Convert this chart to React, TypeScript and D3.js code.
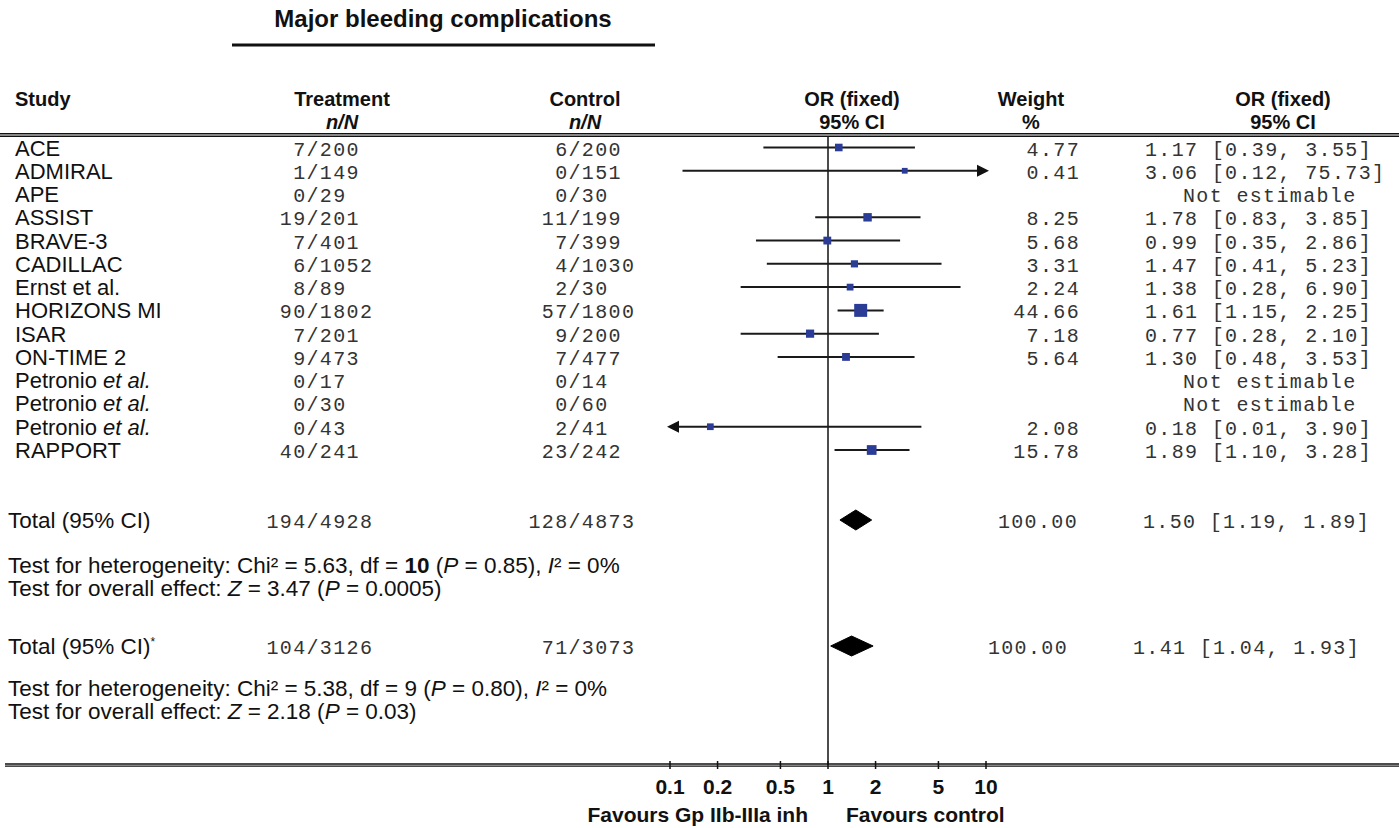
import React from "react";
import * as d3 from "d3";

const studies = ["ACE", "ADMIRAL", "APE", "ASSIST", "BRAVE-3", "CADILLAC", "Ernst et al.", "HORIZONS MI", "ISAR", "ON-TIME 2", "Petronio", "Petronio", "Petronio", "RAPPORT"];
const italicSuffix = ["", "", "", "", "", "", "", "", "", "", " et al.", " et al.", " et al.", ""];
const treatEvents = [7, 1, 0, 19, 7, 6, 8, 90, 7, 9, 0, 0, 0, 40];
const treatTotal = [200, 149, 29, 201, 401, 1052, 89, 1802, 201, 473, 17, 30, 43, 241];
const ctrlEvents = [6, 0, 0, 11, 7, 4, 2, 57, 9, 7, 0, 0, 2, 23];
const ctrlTotal = [200, 151, 30, 199, 399, 1030, 30, 1800, 200, 477, 14, 60, 41, 242];
const weights: (number | null)[] = [4.77, 0.41, null, 8.25, 5.68, 3.31, 2.24, 44.66, 7.18, 5.64, null, null, 2.08, 15.78];
const oddsRatio: (number | null)[] = [1.17, 3.06, null, 1.78, 0.99, 1.47, 1.38, 1.61, 0.77, 1.3, null, null, 0.18, 1.89];
const ciLow: (number | null)[] = [0.39, 0.12, null, 0.83, 0.35, 0.41, 0.28, 1.15, 0.28, 0.48, null, null, 0.01, 1.1];
const ciHigh: (number | null)[] = [3.55, 75.73, null, 3.85, 2.86, 5.23, 6.9, 2.25, 2.1, 3.53, null, null, 3.9, 3.28];

const totalLabels = ["Total (95% CI)", "Total (95% CI)"];
const totalStar = ["", "*"];
const totalTreat = ["194/4928", "104/3126"];
const totalCtrl = ["128/4873", "71/3073"];
const totalWeight = ["100.00", "100.00"];
const totalOR = [1.5, 1.41];
const totalLow = [1.19, 1.04];
const totalHigh = [1.89, 1.93];

const ticks = [0.1, 0.2, 0.5, 1, 2, 5, 10];

const sans = "'Liberation Sans', Arial, Helvetica, sans-serif";
const mono = "'Liberation Mono', 'Courier New', monospace";
const CW = 13.35; // mono advance
const monoStyle = { fontFamily: mono, fontSize: 20, letterSpacing: 1.35, fill: "#333" } as const;

const x = d3.scaleLog().domain([0.1, 10]).range([670, 986]);
const rowY = d3.scaleLinear().domain([0, studies.length - 1]).range([147.5, 450]);
const sq = d3.scaleSqrt().domain([0, 45]).range([5, 13]);
const totalY = [520, 646];

function fmt2(v: number) {
  return d3.format(".2f")(v);
}

function Frac({ slashX, y, num, den }: { slashX: number; y: number; num: string; den: string }) {
  return (
    <text x={slashX - num.length * CW} y={y} style={monoStyle}>
      {num + "/" + den}
    </text>
  );
}

function RightMono({ right, y, s }: { right: number; y: number; s: string }) {
  return (
    <text x={right - s.length * CW} y={y} style={monoStyle}>
      {s}
    </text>
  );
}

export default function App() {
  const ink = "#111";
  const blue = "#2b3c96";
  const headerRule = 135;
  const axisY = 765;
  const treatSlash = 306.5;
  const ctrlSlash = 568.5;
  const h1 = 106;
  const h2 = 129;

  return (
    <svg
      width={1399}
      height={828}
      style={{ position: "absolute", left: 0, top: 0, background: "#fff" }}
    >
      {/* title */}
      <text x={443} y={27} textAnchor="middle" style={{ fontFamily: sans, fontSize: 24, fontWeight: "bold", fill: ink }}>
        Major bleeding complications
      </text>
      <line x1={232} x2={655} y1={45} y2={45} stroke={ink} strokeWidth={3} />

      {/* header */}
      <g style={{ fontFamily: sans, fontSize: 20, fontWeight: "bold", fill: ink }}>
        <text x={15} y={h1}>Study</text>
        <text x={342} y={h1} textAnchor="middle">Treatment</text>
        <text x={342} y={h2} textAnchor="middle" fontStyle="italic">n/N</text>
        <text x={585} y={h1} textAnchor="middle">Control</text>
        <text x={585} y={h2} textAnchor="middle" fontStyle="italic">n/N</text>
        <text x={852} y={h1} textAnchor="middle">OR (fixed)</text>
        <text x={852} y={h2} textAnchor="middle">95% CI</text>
        <text x={1031} y={h1} textAnchor="middle">Weight</text>
        <text x={1031} y={h2} textAnchor="middle">%</text>
        <text x={1283} y={h1} textAnchor="middle">OR (fixed)</text>
        <text x={1283} y={h2} textAnchor="middle">95% CI</text>
      </g>
      <line x1={0} x2={1399} y1={headerRule - 1.2} y2={headerRule - 1.2} stroke={ink} strokeWidth={1.4} />
      <line x1={0} x2={1399} y1={headerRule + 1.2} y2={headerRule + 1.2} stroke={ink} strokeWidth={1.4} />

      {/* no-effect line */}
      <line x1={x(1)} x2={x(1)} y1={headerRule + 2} y2={axisY} stroke={ink} strokeWidth={1.5} />

      {/* study rows */}
      {studies.map((name, i) => {
        const cy = rowY(i);
        const ty = cy + 8;
        const o = oddsRatio[i];
        const lo = ciLow[i];
        const hi = ciHigh[i];
        const w = weights[i];
        let marks = null;
        if (o != null && lo != null && hi != null && w != null) {
          const xl = x(Math.max(lo, 0.1));
          const xh = x(Math.min(hi, 10));
          const s = sq(w);
          marks = (
            <g>
              <line x1={xl} x2={xh} y1={cy} y2={cy} stroke="#1a1a1a" strokeWidth={2} />
              {hi > 10 && <path d={`M${xh + 3},${cy} L${xh - 9},${cy - 6} L${xh - 9},${cy + 6} Z`} fill="#111" />}
              {lo < 0.1 && <path d={`M${xl - 3},${cy} L${xl + 9},${cy - 6} L${xl + 9},${cy + 6} Z`} fill="#111" />}
              <rect x={x(o) - s / 2} y={cy - s / 2} width={s} height={s} fill={blue} />
            </g>
          );
        }
        return (
          <g key={i}>
            <text x={15} y={ty} style={{ fontFamily: sans, fontSize: 22, fill: ink }}>
              {name}
              {italicSuffix[i] && <tspan fontStyle="italic">{italicSuffix[i]}</tspan>}
            </text>
            <Frac slashX={treatSlash} y={ty} num={String(treatEvents[i])} den={String(treatTotal[i])} />
            <Frac slashX={ctrlSlash} y={ty} num={String(ctrlEvents[i])} den={String(ctrlTotal[i])} />
            {marks}
            {w != null && o != null && lo != null && hi != null ? (
              <g>
                <RightMono right={1080} y={ty} s={fmt2(w)} />
                <text x={1145} y={ty} style={monoStyle}>
                  {`${fmt2(o)} [${fmt2(lo)}, ${fmt2(hi)}]`}
                </text>
              </g>
            ) : (
              <text x={1183} y={ty} style={monoStyle}>Not estimable</text>
            )}
          </g>
        );
      })}

      {/* totals */}
      {totalLabels.map((lab, k) => {
        const cy = totalY[k];
        const ty = cy + 8;
        const shift = k === 0 ? 0 : -10;
        const [n1, d1] = totalTreat[k].split("/");
        const [n2, d2] = totalCtrl[k].split("/");
        const xl = x(totalLow[k]);
        const xh = x(totalHigh[k]);
        const xc = x(totalOR[k]);
        return (
          <g key={"t" + k}>
            <text x={8} y={ty} style={{ fontFamily: sans, fontSize: 22.5, fill: ink }}>
              {lab}
              {totalStar[k] && <tspan fontSize={12} dy={-8}>{totalStar[k]}</tspan>}
            </text>
            <Frac slashX={treatSlash} y={ty} num={n1} den={d1} />
            <Frac slashX={ctrlSlash} y={ty} num={n2} den={d2} />
            <path d={`M${xl},${cy} L${xc},${cy - 10} L${xh},${cy} L${xc},${cy + 10} Z`} fill="#000" stroke="#000" strokeWidth={1} strokeLinejoin="round" />
            <RightMono right={1078 + shift} y={ty} s={totalWeight[k]} />
            <text x={1143 + shift} y={ty} style={monoStyle}>
              {`${fmt2(totalOR[k])} [${fmt2(totalLow[k])}, ${fmt2(totalHigh[k])}]`}
            </text>
          </g>
        );
      })}

      {/* test statistics */}
      <g style={{ fontFamily: sans, fontSize: 22.5, fill: ink }}>
        <text x={8} y={573}>
          Test for heterogeneity: Chi² = 5.63, df = <tspan fontWeight="bold">10</tspan> (<tspan fontStyle="italic">P</tspan> = 0.85), <tspan fontStyle="italic">I</tspan>² = 0%
        </text>
        <text x={8} y={596}>
          Test for overall effect: <tspan fontStyle="italic">Z</tspan> = 3.47 (<tspan fontStyle="italic">P</tspan> = 0.0005)
        </text>
        <text x={8} y={696}>
          Test for heterogeneity: Chi² = 5.38, df = 9 (<tspan fontStyle="italic">P</tspan> = 0.80), <tspan fontStyle="italic">I</tspan>² = 0%
        </text>
        <text x={8} y={719}>
          Test for overall effect: <tspan fontStyle="italic">Z</tspan> = 2.18 (<tspan fontStyle="italic">P</tspan> = 0.03)
        </text>
      </g>

      {/* axis */}
      <line x1={5} x2={1399} y1={axisY - 1} y2={axisY - 1} stroke={ink} strokeWidth={1.3} />
      <line x1={5} x2={1399} y1={axisY + 1.2} y2={axisY + 1.2} stroke={ink} strokeWidth={1.3} />
      {ticks.map((t) => (
        <g key={"tick" + t}>
          <line x1={x(t)} x2={x(t)} y1={axisY - 4} y2={axisY + 4} stroke={ink} strokeWidth={1.5} />
          <text x={x(t)} y={794} textAnchor="middle" style={{ fontFamily: sans, fontSize: 21, fontWeight: "bold", fill: ink }}>
            {String(t)}
          </text>
        </g>
      ))}
      <text x={808} y={822} textAnchor="end" style={{ fontFamily: sans, fontSize: 21, fontWeight: "bold", fill: ink }}>
        Favours Gp IIb-IIIa inh
      </text>
      <text x={846} y={822} style={{ fontFamily: sans, fontSize: 21, fontWeight: "bold", fill: ink }}>
        Favours control
      </text>
    </svg>
  );
}
